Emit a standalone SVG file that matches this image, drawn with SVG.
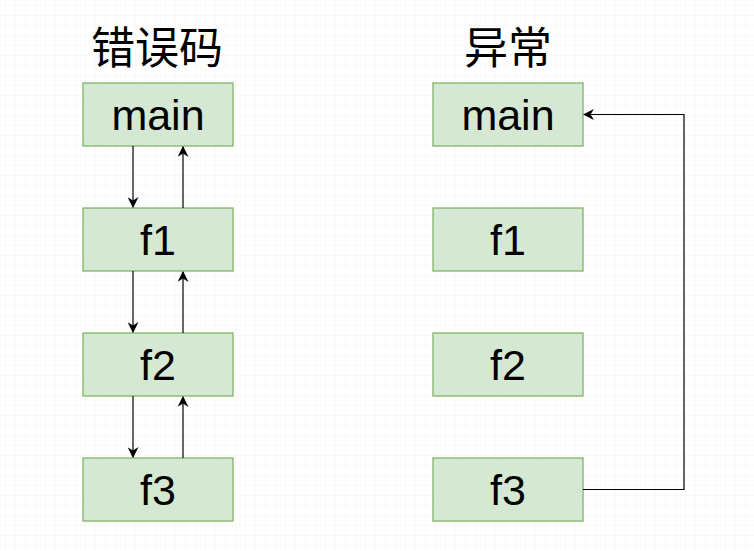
<svg xmlns="http://www.w3.org/2000/svg" width="754" height="551" viewBox="0 0 754 551">
<defs>
<pattern id="minor" width="10" height="10" patternUnits="userSpaceOnUse" x="3" y="3">
<path d="M10 0V10M0 10H10" fill="none" stroke="#f2f2f2" stroke-width="1"/>
</pattern>
<pattern id="major" width="50" height="50" patternUnits="userSpaceOnUse" x="-17" y="-17">
<rect width="50" height="50" fill="url(#minor)"/>
<path d="M50.5 0V50M0 50.5H50" fill="none" stroke="#e3e3e3" stroke-width="1"/>
</pattern>
<marker id="arr" viewBox="0 0 10 10" refX="9" refY="5" markerWidth="11" markerHeight="11" markerUnits="userSpaceOnUse" orient="auto">
<path d="M0 0L10 5L0 10L3 5Z" fill="#000"/>
</marker>
<style>
.box{fill:#d5e8d4;stroke:#82b366;stroke-width:1.3}
.lbl{font-family:"Liberation Sans",Arial,sans-serif;font-size:43px;text-anchor:middle;fill:#000}
.ttl{font-family:"Noto Sans CJK SC","Noto Sans",sans-serif;font-size:44px;text-anchor:middle;fill:#000}
.c{fill:none;stroke:#000;stroke-width:1.2;marker-end:url(#arr)}
</style>
</defs>
<rect width="754" height="551" fill="#fff"/>
<rect width="754" height="551" fill="url(#major)"/>
<text class="ttl" x="157" y="64">错误码</text>
<text class="ttl" x="508" y="64">异常</text>
<g id="l-main"><rect class="box" x="83" y="83" width="150" height="63"/><text class="lbl" x="158" y="130">main</text></g>
<g id="l-f1"><rect class="box" x="83" y="208" width="150" height="63"/><text class="lbl" x="158" y="255">f1</text></g>
<g id="l-f2"><rect class="box" x="83" y="333" width="150" height="63"/><text class="lbl" x="158" y="380">f2</text></g>
<g id="l-f3"><rect class="box" x="83" y="458" width="150" height="63"/><text class="lbl" x="158" y="505">f3</text></g>
<g id="r-main"><rect class="box" x="433" y="83" width="150" height="63"/><text class="lbl" x="508" y="130">main</text></g>
<g id="r-f1"><rect class="box" x="433" y="208" width="150" height="63"/><text class="lbl" x="508" y="255">f1</text></g>
<g id="r-f2"><rect class="box" x="433" y="333" width="150" height="63"/><text class="lbl" x="508" y="380">f2</text></g>
<g id="r-f3"><rect class="box" x="433" y="458" width="150" height="63"/><text class="lbl" x="508" y="505">f3</text></g>
<g id="connectors">
<path class="c" d="M133 146V207"/>
<path class="c" d="M183 208V147"/>
<path class="c" d="M133 271V332"/>
<path class="c" d="M183 333V272"/>
<path class="c" d="M133 396V457"/>
<path class="c" d="M183 458V397"/>
<path class="c" d="M583 489.5H684V114.5H584"/>
</g>
</svg>
